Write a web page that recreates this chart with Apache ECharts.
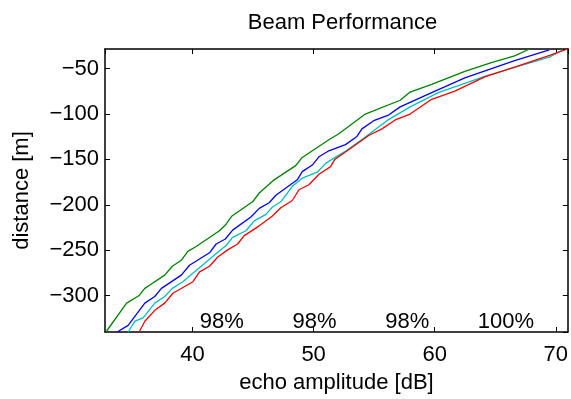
<!DOCTYPE html>
<html><head><meta charset="utf-8">
<script src="https://cdn.jsdelivr.net/npm/echarts@6/dist/echarts.min.js"></script>
<style>html,body{margin:0;padding:0;background:#fff}#c{width:571px;height:399px}</style>
</head><body><div id="c"></div>
<script>
const greenAmp = [32.85,34.55,35.56,36.06,36.47,37.70,38.33,39.07,39.61,40.30,42.22,42.77,43.26,44.96,45.51,46.74,48.52,49.06,51.26,52.08,54.27,57.15,57.97,59.75,62.49,64.68,66.60,67.83];
const greenDist = [-340.2,-308.4,-300.3,-292.1,-288.4,-277.5,-267.7,-261.2,-251.4,-246.0,-228.6,-221.4,-212.3,-196.7,-187.0,-172.5,-156.8,-147.8,-128.3,-121.7,-100,-84.8,-75.8,-67.4,-52.9,-43.2,-35.9,-28.3];
const blueAmp = [33.78,34.68,36.06,36.88,37.43,39.07,39.75,41.40,41.95,42.71,43.31,44.82,45.51,46.33,46.88,48.65,49.06,49.89,50.44,51.26,52.63,53.58,53.99,54.96,56.19,57.15,59.75,62.49,66.60,69.47];
const blueDist = [-340.2,-332.9,-308.4,-301.1,-292.1,-277.5,-266.6,-252.9,-243.2,-237.7,-227.9,-213.4,-204.0,-197.8,-189.5,-172.5,-163.4,-156.2,-147.1,-140.5,-133.7,-124.7,-116.3,-107.3,-101.1,-92.1,-76.4,-60.1,-41.0,-29.3];
const cyanAmp = [34.68,35.24,35.92,36.88,37.70,38.33,39.20,40.17,41.13,42.08,42.77,43.31,44.41,45.10,46.06,46.60,47.29,48.24,49.06,50.30,50.99,52.08,52.63,54.27,56.05,57.97,60.30,64.13,66.60,69.47,70.57];
const cyanDist = [-340.2,-328.3,-324.7,-308.4,-301.1,-292.1,-284.8,-273.9,-263.0,-252.2,-244.9,-235.9,-228.6,-217.7,-210.5,-202.5,-196.7,-179.7,-170.7,-164.1,-154.3,-145.3,-141.0,-125.3,-107.3,-92.1,-76.4,-58.4,-48.6,-37.3,-29.3];
const redAmp = [35.59,36.06,36.88,37.70,38.38,40.03,40.58,41.40,42.08,42.90,43.72,44.27,45.51,46.60,47.29,48.24,48.79,49.61,50.44,51.40,51.75,54.55,55.64,56.74,57.97,59.75,61.67,64.13,66.60,69.61,70.98];
const redDist = [-340.2,-328.3,-316.3,-308.4,-297.5,-284.8,-273.9,-267.7,-257.6,-249.7,-243.2,-234.0,-223.2,-212.3,-203.3,-195.3,-183.4,-177.9,-166.3,-157.9,-150.0,-123.6,-116.3,-106.5,-100.0,-83.7,-74.7,-59.0,-48.2,-34.8,-28.3];
const pctLabels = ['98%','98%','98%','100%'];
const pctAmp = [42.42,50.07,57.73,65.88];
const pctDist = [-329.5,-329.5,-329.5,-329.5];
const xMin = 32.77, xMax = 71.0, yMin = -340.2, yMax = -28.3;

const zip = (a,b) => a.map((v,i)=>[v,b[i]]);
const FONT = 'Liberation Sans';
const FS = 22;
const minus = v => String(v).replace('-', '\u2212');
const axisLine = {show:true, lineStyle:{color:'#000', width:1.5}};
const chart = echarts.init(document.getElementById('c'), null, {renderer:'canvas'});
const lineS = (data, color) => ({type:'line', data, showSymbol:false, symbol:'none', lineStyle:{color, width:1.3}, itemStyle:{color}, clip:true, animation:false});
chart.setOption({
  animation:false,
  title:{text:'Beam Performance', left:337.5, top:7, textAlign:'center', textStyle:{fontFamily:FONT, fontSize:FS, fontWeight:'normal', color:'#000'}},
  grid:{left:105, right:1, top:49, bottom:63, containLabel:false},
  xAxis:[
    {type:'value', min:xMin, max:xMax, splitNumber:4, position:'bottom', axisLine, splitLine:{show:false},
     axisTick:{inside:true, length:5, lineStyle:{color:'#000'}},
     axisLabel:{showMinLabel:false, showMaxLabel:false, fontFamily:FONT, fontSize:FS, color:'#000', margin:12},
     name:'echo amplitude [dB]', nameLocation:'middle', nameGap:40, nameTextStyle:{fontFamily:FONT, fontSize:FS, color:'#000'}},
    {type:'value', min:xMin, max:xMax, splitNumber:4, position:'top', axisLine, splitLine:{show:false},
     axisTick:{inside:true, length:5, lineStyle:{color:'#000'}}, axisLabel:{show:false}}
  ],
  yAxis:[
    {type:'value', min:yMin, max:yMax, splitNumber:6, position:'left', axisLine, splitLine:{show:false},
     axisTick:{inside:true, length:5, lineStyle:{color:'#000'}},
     axisLabel:{showMinLabel:false, showMaxLabel:false, formatter:minus, fontFamily:FONT, fontSize:FS, color:'#000', margin:6},
     name:'distance [m]', nameLocation:'middle', nameGap:72, nameRotate:90, nameTextStyle:{fontFamily:FONT, fontSize:FS, color:'#000'}},
    {type:'value', min:yMin, max:yMax, splitNumber:6, position:'right', axisLine, splitLine:{show:false},
     axisTick:{inside:true, length:5, lineStyle:{color:'#000'}}, axisLabel:{show:false}}
  ],
  series:[
    lineS(zip(greenAmp, greenDist), '#008000'),
    lineS(zip(blueAmp, blueDist), '#0000ff'),
    lineS(zip(cyanAmp, cyanDist), '#00bfbf'),
    lineS(zip(redAmp, redDist), '#ff0000'),
    {type:'scatter', symbolSize:0, itemStyle:{opacity:1}, data:pctAmp.map((v,i)=>({value:[v,pctDist[i]], name:pctLabels[i]})),
     label:{show:true, position:'inside', opacity:1, formatter:p=>p.name, fontFamily:FONT, fontSize:FS, color:'#000'}, silent:true}
  ]
});
</script></body></html>
